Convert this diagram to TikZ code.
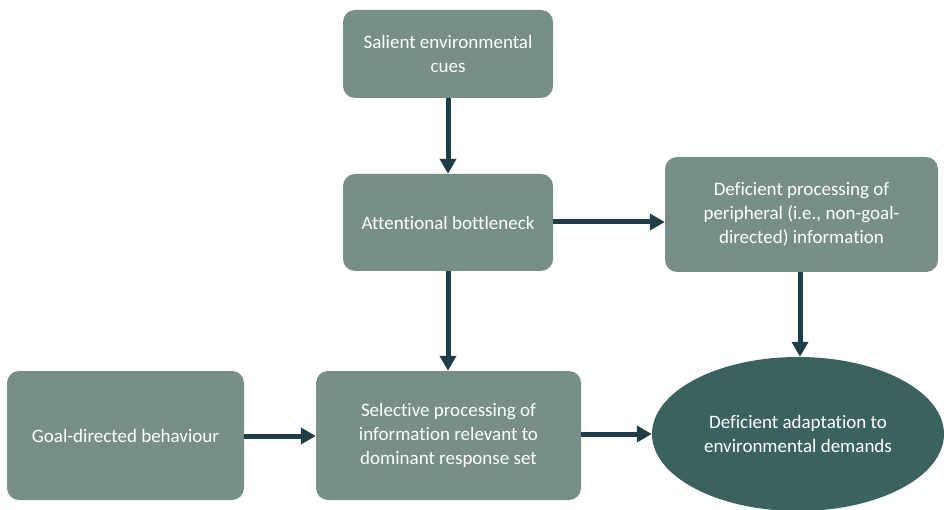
\documentclass[tikz,border=0pt]{standalone}
\usepackage{fontspec}
\setmainfont{Carlito}[Ligatures={NoCommon}]
\usetikzlibrary{arrows.meta,shapes.geometric}
\definecolor{boxfill}{HTML}{778F84}
\definecolor{ovalfill}{HTML}{3A625F}
\definecolor{arrowcol}{HTML}{1F3D47}
\tikzset{
  stepbox/.style={fill=boxfill, rounded corners=12pt, text=white, align=center,
    font=\fontsize{19}{24}\selectfont, inner sep=0pt},
  outcome/.style={ellipse, fill=ovalfill, text=white, align=center,
    font=\fontsize{19}{24}\selectfont, inner sep=0pt},
  flow/.style={draw=arrowcol, line width=5pt,
    -{Triangle[length=15pt,width=16pt]}}
}
\begin{document}
\begin{tikzpicture}[x=1pt,y=-1pt]
\useasboundingbox (0,0) rectangle (944,510);
\node[stepbox, minimum width=210pt, minimum height=88pt] (cues) at (448,54) {Salient environmental\\cues};
\node[stepbox, minimum width=210pt, minimum height=97pt] (bottle) at (448,222.5) {Attentional bottleneck};
\node[stepbox, minimum width=273pt, minimum height=115pt] (periph) at (801.5,214.5) {Deficient processing of\\peripheral (i.e., non-goal-\\directed) information};
\node[stepbox, minimum width=237pt, minimum height=129pt] (goal) at (125.5,435.5) {Goal-directed behaviour};
\node[stepbox, minimum width=265pt, minimum height=129pt] (select) at (448.5,435.5) {Selective processing of\\information relevant to\\dominant response set};
\node[outcome, minimum width=292pt, minimum height=154pt] (adapt) at (798,434) {Deficient adaptation to\\environmental demands};
\draw[flow] (cues.south) -- (bottle.north);
\draw[flow] (bottle.south) -- (bottle.south |- select.north);
\draw[flow] (bottle.east |- 0,222) -- (periph.west |- 0,222);
\draw[flow] (periph.south -| 800,0) -- (adapt.north -| 800,0);
\draw[flow] (goal.east |- 0,436) -- (select.west |- 0,436);
\draw[flow] (select.east |- 0,434) -- (adapt.west |- 0,434);
\end{tikzpicture}
\end{document}
